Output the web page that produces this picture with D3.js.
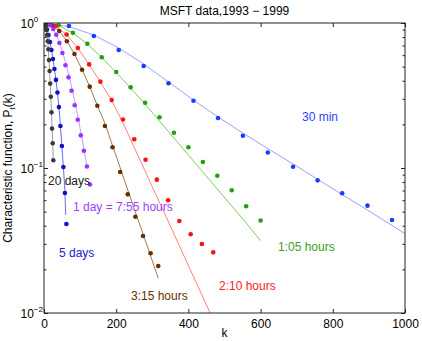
<!DOCTYPE html>
<html>
<head>
<meta charset="utf-8">
<script src="https://d3js.org/d3.v7.min.js"></script>
<style>
  body { margin: 0; background: #fff; }
  text { font-family: "Liberation Sans", Arial, sans-serif; }
</style>
</head>
<body>
<div id="viz"></div>
<script>

// tick values
var xTicks = [0, 200, 400, 600, 800, 1000];
var yMajor = [1, 0.1, 0.01];
var yMajorLabels = ["0", "\u22121", "\u22122"];
var yMinor = [0.02, 0.03, 0.04, 0.05, 0.06, 0.07, 0.08, 0.09, 0.2, 0.3, 0.4, 0.5, 0.6, 0.7, 0.8, 0.9];

// 30 min
var k30 = [0, 69, 138, 207, 276, 345, 414, 482, 551, 620, 690, 758, 826, 896, 964];
var p30 = [1, 0.953, 0.813, 0.651, 0.505, 0.384, 0.291, 0.221, 0.167, 0.128, 0.102, 0.0822, 0.0669, 0.0550, 0.0438];
var fitK30 = [0, 69, 138, 207, 276, 345, 414, 482, 551, 620, 690, 758, 826, 896, 964, 1000];
var fitP30 = [1, 0.945, 0.826, 0.672, 0.522, 0.392, 0.294, 0.225, 0.174, 0.136, 0.1066, 0.0836, 0.0655, 0.0513, 0.0402, 0.0353];

// 1:05 hours
var k105 = [0, 40, 80, 120, 160, 200, 240, 280, 320, 360, 400, 440, 480, 520, 560, 600];
var p105 = [1, 0.964, 0.857, 0.720, 0.580, 0.459, 0.360, 0.282, 0.224, 0.175, 0.139, 0.110, 0.0885, 0.0702, 0.0545, 0.0434];
var fitP105 = [1, 0.961, 0.853, 0.717, 0.578, 0.456, 0.356, 0.276, 0.211, 0.161, 0.123, 0.0938, 0.0716, 0.0547, 0.0418, 0.0315];

// 2:10 hours
var k210 = [0, 31.25, 62.5, 93.75, 125, 156.25, 187.5, 218.75, 250, 281.25, 312.5, 343.75, 375, 406.25, 437.5, 468.75];
var p210 = [1, 0.953, 0.833, 0.672, 0.518, 0.394, 0.294, 0.216, 0.158, 0.114, 0.0831, 0.0599, 0.0431, 0.0349, 0.0299, 0.0262];
var fitK210 = [0, 31.25, 62.5, 93.75, 125, 156.25, 187.5, 218.75, 250, 281.25, 312.5, 343.75, 375, 406.25, 437.5, 460];
var fitP210 = [1, 0.953, 0.833, 0.672, 0.518, 0.392, 0.292, 0.205, 0.1385, 0.0938, 0.0636, 0.0431, 0.0291, 0.0196, 0.0133, 0.0100];

// 3:15 hours
var k315 = [0, 21.1, 42.2, 63.3, 84.4, 105.5, 126.6, 147.7, 168.8, 189.9, 211, 232.1, 253.2, 274.3, 295.4, 316.5];
var p315 = [1, 0.964, 0.881, 0.748, 0.611, 0.476, 0.364, 0.269, 0.195, 0.139, 0.0938, 0.0658, 0.0461, 0.0340, 0.0258, 0.0211];
var fitP315 = [1, 0.964, 0.881, 0.748, 0.611, 0.476, 0.364, 0.269, 0.2034, 0.1425, 0.1005, 0.0705, 0.0495, 0.0352, 0.0247, 0.01735];

// 1 day = 7:55 hours
var k1d = [0, 8.5, 17, 25.5, 34, 42.5, 51, 59.5, 68, 76.5, 85, 93.5, 102, 110.5, 119, 127.5];
var p1d = [1, 0.984, 0.964, 0.909, 0.830, 0.728, 0.621, 0.511, 0.422, 0.341, 0.271, 0.215, 0.168, 0.1316, 0.1024, 0.0769];
var fitK1d = [0, 8.5, 17, 25.5, 34, 42.5, 51, 59.5, 68, 76.5, 85, 93.5, 102, 110.5, 120];
var fitP1d = [1, 0.984, 0.961, 0.909, 0.833, 0.740, 0.636, 0.538, 0.445, 0.362, 0.290, 0.228, 0.177, 0.135, 0.100];

// 5 days
var k5d = [0, 4.13, 8.27, 12.4, 16.5, 20.7, 24.8, 28.9, 33.1, 37.2, 41.3, 45.5, 49.6, 53.7, 57.9, 62];
var p5d = [1, 0.969, 0.902, 0.826, 0.740, 0.651, 0.565, 0.482, 0.405, 0.332, 0.263, 0.195, 0.1418, 0.1016, 0.0672, 0.0411];
var fitK5d = [0, 4.13, 8.27, 12.4, 16.5, 20.7, 24.8, 28.9, 33.1, 37.2, 41.3, 45.5, 49.6, 53.7, 57.9, 60];
var fitP5d = [1, 0.969, 0.902, 0.826, 0.740, 0.651, 0.565, 0.482, 0.405, 0.332, 0.263, 0.195, 0.1418, 0.1016, 0.0705, 0.0474];

// 20 days
var k20d = [0, 1.72, 3.44, 5.16, 6.88, 8.6, 10.32, 12.04, 13.76, 15.48, 17.2, 18.92, 20.64, 22.36, 24.08, 25.8];
var p20d = [1, 0.991, 0.972, 0.938, 0.895, 0.826, 0.748, 0.659, 0.556, 0.467, 0.382, 0.310, 0.242, 0.187, 0.148, 0.113];
var fitP20d = [1, 0.990, 0.970, 0.937, 0.893, 0.826, 0.750, 0.660, 0.558, 0.468, 0.383, 0.310, 0.243, 0.188, 0.146, 0.110];

var series = [
  { k: k30,  p: p30,  fk: fitK30,  fp: fitP30,  dot: "#1a3cff", line: "#8a96ff" },
  { k: k105, p: p105, fk: k105,    fp: fitP105, dot: "#22a011", line: "#66cc44" },
  { k: k210, p: p210, fk: fitK210, fp: fitP210, dot: "#ff1010", line: "#ff7070" },
  { k: k315, p: p315, fk: k315,    fp: fitP315, dot: "#6b2c00", line: "#9b6a3a" },
  { k: k1d,  p: p1d,  fk: fitK1d,  fp: fitP1d,  dot: "#9a33ff", line: "#c38cff" },
  { k: k5d,  p: p5d,  fk: fitK5d,  fp: fitP5d,  dot: "#1010c8", line: "#5a5ae0" },
  { k: k20d, p: p20d, fk: k20d,    fp: fitP20d, dot: "#3a3a3a", line: "#909090" }
];

var labels = [
  { text: "30 min",             x: 302, y: 121,   color: "#2a46ff" },
  { text: "1:05 hours",         x: 278, y: 251,   color: "#3aa020" },
  { text: "2:10 hours",         x: 219, y: 289.5, color: "#ff2020" },
  { text: "3:15 hours",         x: 131, y: 299.5, color: "#6b2c00" },
  { text: "1 day = 7:55 hours", x: 73,  y: 211,   color: "#a040ff" },
  { text: "5 days",             x: 59,  y: 256.5, color: "#2020d0" },
  { text: "20 days",            x: 48,  y: 184.5, color: "#202020" }
];

var W = 422, H = 341;
var padL = 44, padR = 405, padT = 23, padB = 313;

var svg = d3.select("#viz").append("svg")
  .attr("width", W).attr("height", H);

var x = d3.scaleLinear().domain([0, 1000]).range([padL, padR]);
var y = d3.scaleLog().domain([0.01, 1]).range([padB, padT]);

svg.append("clipPath").attr("id", "plotclip")
  .append("rect")
  .attr("x", padL).attr("y", padT)
  .attr("width", padR - padL).attr("height", padB - padT);

// fitted curves and data points
var plot = svg.append("g").attr("clip-path", "url(#plotclip)");
var line = d3.line().x(function (d) { return x(d[0]); }).y(function (d) { return y(d[1]); });

series.forEach(function (s) {
  var pts = s.fk.map(function (k, i) { return [k, s.fp[i]]; });
  plot.append("path")
    .attr("d", line(pts))
    .attr("fill", "none")
    .attr("stroke", s.line)
    .attr("stroke-width", 0.9);
});

series.forEach(function (s) {
  plot.selectAll(null)
    .data(s.k.map(function (k, i) { return [k, s.p[i]]; }))
    .enter().append("circle")
    .attr("cx", function (d) { return x(d[0]); })
    .attr("cy", function (d) { return y(d[1]); })
    .attr("r", 2.3)
    .attr("fill", s.dot);
});

// frame
svg.append("rect")
  .attr("x", padL).attr("y", padT)
  .attr("width", padR - padL).attr("height", padB - padT)
  .attr("fill", "none").attr("stroke", "#222").attr("stroke-width", 1);

// axes
var xAxis = svg.append("g")
  .attr("transform", "translate(0," + padB + ")")
  .call(d3.axisBottom(x).tickValues(xTicks).tickFormat(d3.format("d"))
    .tickSizeInner(-4).tickSizeOuter(0).tickPadding(6));
svg.append("g")
  .attr("transform", "translate(0," + padT + ")")
  .call(d3.axisTop(x).tickValues(xTicks).tickFormat("")
    .tickSizeInner(-4).tickSizeOuter(0));

svg.append("g")
  .attr("transform", "translate(" + padL + ",0)")
  .call(d3.axisLeft(y).tickValues(yMajor).tickFormat("").tickSizeInner(-4).tickSizeOuter(0));
svg.append("g")
  .attr("transform", "translate(" + padL + ",0)")
  .call(d3.axisLeft(y).tickValues(yMinor).tickFormat("").tickSizeInner(-2.5).tickSizeOuter(0));
svg.append("g")
  .attr("transform", "translate(" + padR + ",0)")
  .call(d3.axisRight(y).tickValues(yMajor).tickFormat("").tickSizeInner(-4).tickSizeOuter(0));
svg.append("g")
  .attr("transform", "translate(" + padR + ",0)")
  .call(d3.axisRight(y).tickValues(yMinor).tickFormat("").tickSizeInner(-2.5).tickSizeOuter(0));

svg.selectAll(".domain").remove();
svg.selectAll(".tick line").attr("stroke", "#222");
xAxis.selectAll("text").attr("font-size", 12).attr("fill", "#000")
  .attr("font-family", "Liberation Sans, Arial, sans-serif");

// log tick labels 10^n
yMajor.forEach(function (v, i) {
  var t = svg.append("text")
    .attr("x", 20.5).attr("y", y(v) + 5)
    .attr("font-size", 12).attr("fill", "#000");
  t.append("tspan").text("10");
  t.append("tspan").attr("dy", -6).attr("font-size", 8).text(yMajorLabels[i]);
});

// title and axis labels
svg.append("text")
  .attr("x", (padL + padR) / 2).attr("y", 15)
  .attr("text-anchor", "middle").attr("font-size", 12)
  .text("MSFT data,1993 \u2212 1999");

svg.append("text")
  .attr("x", (padL + padR) / 2).attr("y", 337)
  .attr("text-anchor", "middle").attr("font-size", 12)
  .text("k");

var yl = svg.append("text")
  .attr("transform", "translate(12,168) rotate(-90)")
  .attr("text-anchor", "middle").attr("font-size", 12);
yl.append("tspan").text("Characteristic function, P");
yl.append("tspan").attr("dy", 3).attr("font-size", 8).text("t");
yl.append("tspan").attr("dy", -3).text("(k)");

// series labels
svg.selectAll(null)
  .data(labels)
  .enter().append("text")
  .attr("x", function (d) { return d.x; })
  .attr("y", function (d) { return d.y; })
  .attr("font-size", 12)
  .attr("fill", function (d) { return d.color; })
  .text(function (d) { return d.text; });

</script>
</body>
</html>
